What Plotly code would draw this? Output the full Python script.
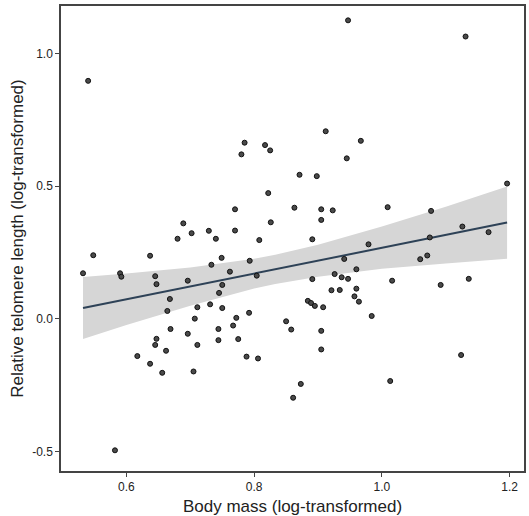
import plotly.graph_objects as go

# Scatter data
body_mass = [0.540, 0.785, 0.780, 0.817, 0.825, 0.822, 0.770, 0.863, 0.689, 0.826,
             0.702, 0.729, 0.770, 0.680, 0.740, 0.808, 0.947, 1.131, 0.912, 0.967,
             0.945, 0.871, 0.898, 1.196, 0.905, 0.923, 1.009, 1.077, 0.905, 1.126,
             1.167, 0.891, 1.075, 0.548, 0.532, 0.590, 0.592, 0.637, 0.645, 0.647,
             0.696, 0.668, 0.664, 0.733, 0.749, 0.762, 0.750, 0.745, 0.711, 0.731,
             0.750, 0.707, 0.793, 0.804, 0.792, 0.772, 0.767, 0.744, 0.669, 0.696,
             0.647, 0.645, 0.662, 0.711, 0.744, 0.775, 0.617, 0.637, 0.656, 0.705,
             0.788, 0.806, 0.850, 0.858, 0.861, 0.582, 0.979, 0.941, 1.060, 1.071,
             0.960, 0.891, 0.926, 0.937, 0.947, 1.016, 1.092, 1.136, 0.921, 0.934,
             0.960, 0.957, 0.964, 0.884, 0.889, 0.895, 0.908, 0.984, 0.905, 0.905,
             1.124, 0.873, 1.013]
telomere = [0.897, 0.664, 0.620, 0.655, 0.635, 0.474, 0.413, 0.419, 0.360, 0.364,
            0.323, 0.332, 0.333, 0.302, 0.302, 0.297, 1.125, 1.064, 0.707, 0.671,
            0.605, 0.543, 0.538, 0.510, 0.413, 0.409, 0.421, 0.407, 0.373, 0.348,
            0.327, 0.300, 0.307, 0.240, 0.172, 0.172, 0.159, 0.238, 0.161, 0.131,
            0.144, 0.075, 0.030, 0.204, 0.230, 0.178, 0.128, 0.098, 0.044, 0.055,
            0.041, 0.001, 0.219, 0.163, 0.023, 0.004, -0.025, -0.038, -0.038, -0.056,
            -0.075, -0.098, -0.120, -0.098, -0.080, -0.076, -0.140, -0.169, -0.203, -0.198,
            -0.142, -0.149, -0.009, -0.040, -0.297, -0.495, 0.281, 0.226, 0.225, 0.239,
            0.187, 0.150, 0.169, 0.157, 0.151, 0.144, 0.128, 0.151, 0.108, 0.109,
            0.114, 0.085, 0.065, 0.068, 0.060, 0.049, 0.044, 0.011, -0.045, -0.115,
            -0.136, -0.245, -0.234]

# Fitted line and confidence band
fit_x = [0.532, 0.6, 0.7, 0.8, 0.833, 0.9, 1.0, 1.1, 1.196]
fit_y = [0.041, 0.074, 0.122, 0.171, 0.187, 0.219, 0.268, 0.316, 0.363]
ci_hi = [0.158, 0.171, 0.194, 0.227, 0.242, 0.279, 0.348, 0.423, 0.499]
ci_lo = [-0.076, -0.023, 0.050, 0.115, 0.132, 0.159, 0.189, 0.209, 0.227]

x_ticks = [0.6, 0.8, 1.0, 1.2]
x_ticklabels = ["0.6", "0.8", "1.0", "1.2"]
y_ticks = [-0.5, 0.0, 0.5, 1.0]
y_ticklabels = ["-0.5", "0.0", "0.5", "1.0"]

fig = go.Figure()
fig.add_trace(go.Scatter(x=fit_x + fit_x[::-1], y=ci_hi + ci_lo[::-1],
                         fill="toself", fillcolor="#d6d6d6", line=dict(width=0),
                         mode="lines", hoverinfo="skip", showlegend=False))
fig.add_trace(go.Scatter(x=fit_x, y=fit_y, mode="lines",
                         line=dict(color="#2e4257", width=2), showlegend=False))
fig.add_trace(go.Scatter(x=body_mass, y=telomere, mode="markers",
                         marker=dict(symbol="circle", size=5, color="#4a4a4a",
                                     line=dict(color="#111111", width=1)),
                         showlegend=False))

font_family = "Liberation Sans, Arial, sans-serif"
fig.update_layout(
    width=529, height=516,
    margin=dict(l=61, r=3, t=6, b=43),
    paper_bgcolor="white", plot_bgcolor="white",
    font=dict(family=font_family, color="#222222"),
    xaxis=dict(range=[0.4975, 1.2225], tickvals=x_ticks, ticktext=x_ticklabels,
               showgrid=False, zeroline=False, showline=True, linecolor="#444444",
               linewidth=1.5, mirror=True, ticks="outside", ticklen=4,
               tickcolor="#444444", tickfont=dict(size=12, color="#222222"),
               title=dict(text="Body mass (log-transformed)",
                          font=dict(size=17, color="#222222"), standoff=7)),
    yaxis=dict(range=[-0.573, 1.179], tickvals=y_ticks, ticktext=y_ticklabels,
               showgrid=False, zeroline=False, showline=True, linecolor="#444444",
               linewidth=1.5, mirror=True, ticks="outside", ticklen=4,
               tickcolor="#444444", tickfont=dict(size=12, color="#222222"),
               title=dict(text="Relative telomere length (log-transformed)",
                          font=dict(size=17, color="#222222"), standoff=4)),
)

fig.write_html("out.html")
